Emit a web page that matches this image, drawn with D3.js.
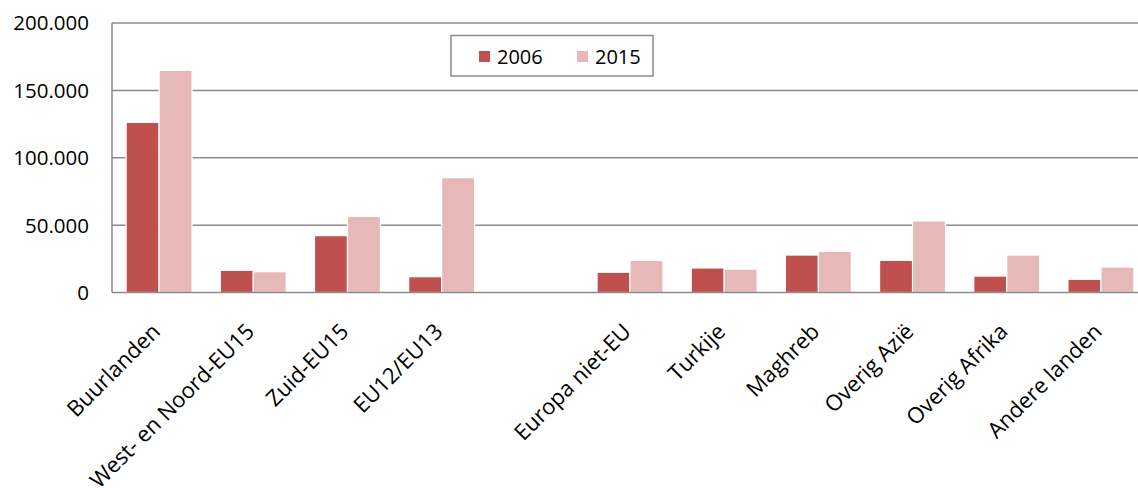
<!DOCTYPE html>
<html><head><meta charset="utf-8">
<script src="https://cdn.jsdelivr.net/npm/d3@7/dist/d3.min.js"></script>
<style>
html,body{margin:0;padding:0;background:#fff;}
svg{display:block;font-family:"Open Sans",sans-serif;}
</style></head>
<body><svg id="c" width="1138" height="488"></svg>
<script>
const categories = ["Buurlanden","West- en Noord-EU15","Zuid-EU15","EU12/EU13","","Europa niet-EU","Turkije","Maghreb","Overig Azië","Overig Afrika","Andere landen"];
const series = ["2006","2015"];
const values2006 = [126300,16500,42200,11700,null,15000,18200,27800,23900,12200,9800];
const values2015 = [164900,15400,56500,85200,null,23900,17400,30600,53100,27800,18900];
const yTicks = [0,50000,100000,150000,200000];
const tickLabels = ["0","50.000","100.000","150.000","200.000"];
const colors = ["#C0504D","#E6B9B8"];

(function(){
const svg = d3.select("#c");
const pLeft = 112, pRight = 1148, pTop = 23, pBottom = 292.5;
const x = d3.scaleBand().domain(d3.range(categories.length)).range([pLeft,pRight]).paddingInner(0.3).paddingOuter(0.15);
const xs = d3.scaleBand().domain(series).range([0,x.bandwidth()]);
const y = d3.scaleLinear().domain([0,200000]).range([pBottom,pTop]);

// gridlines
svg.append("g").selectAll("line").data(yTicks.slice(1)).join("line")
  .attr("x1",pLeft).attr("x2",1138).attr("y1",d=>y(d)).attr("y2",d=>y(d))
  .attr("stroke","#8c8c8c").attr("stroke-width",1.5);

// bars
const g = svg.append("g");
series.forEach((s,si)=>{
  const vals = si===0?values2006:values2015;
  g.append("g").selectAll("rect").data(d3.range(categories.length).filter(i=>vals[i]!=null)).join("rect")
    .attr("x",i=>x(i)+xs(s))
    .attr("width",xs.bandwidth())
    .attr("y",i=>y(vals[i]))
    .attr("height",i=>y(0)-y(vals[i]))
    .attr("fill",colors[si])
    .attr("stroke","#fff").attr("stroke-width",1.2);
});

// axes lines
svg.append("line").attr("x1",pLeft).attr("x2",pLeft).attr("y1",pTop).attr("y2",pBottom).attr("stroke","#8c8c8c").attr("stroke-width",1.5);
svg.append("line").attr("x1",pLeft).attr("x2",1138).attr("y1",pBottom).attr("y2",pBottom).attr("stroke","#8c8c8c").attr("stroke-width",1.5);

// y labels
svg.append("g").selectAll("text").data(yTicks).join("text")
  .attr("x",89).attr("y",d=>y(d)).attr("dy","0.36em").attr("text-anchor","end")
  .attr("font-size",20.5).attr("fill","#000").text((d,i)=>tickLabels[i]);

// x labels
svg.append("g").selectAll("text").data(d3.range(categories.length)).join("text")
  .attr("transform",i=>`translate(${x(i)+x.bandwidth()/2-3},${pBottom+35}) rotate(-45)`)
  .attr("text-anchor","end").attr("dy","0.35em")
  .attr("font-size",22).attr("fill","#000").text(i=>categories[i]);

// legend
const lg = svg.append("g");
lg.append("rect").attr("x",451).attr("y",35.5).attr("width",202).attr("height",40.5)
  .attr("fill","#fff").attr("stroke","#8c8c8c").attr("stroke-width",1.5);
const lx = [479,577];
series.forEach((s,si)=>{
  lg.append("rect").attr("x",lx[si]).attr("y",51).attr("width",11).attr("height",11).attr("fill",colors[si]);
  lg.append("text").attr("x",lx[si]+18).attr("y",63.5).attr("font-size",20).attr("fill","#000").text(s);
});
})();
</script></body></html>
